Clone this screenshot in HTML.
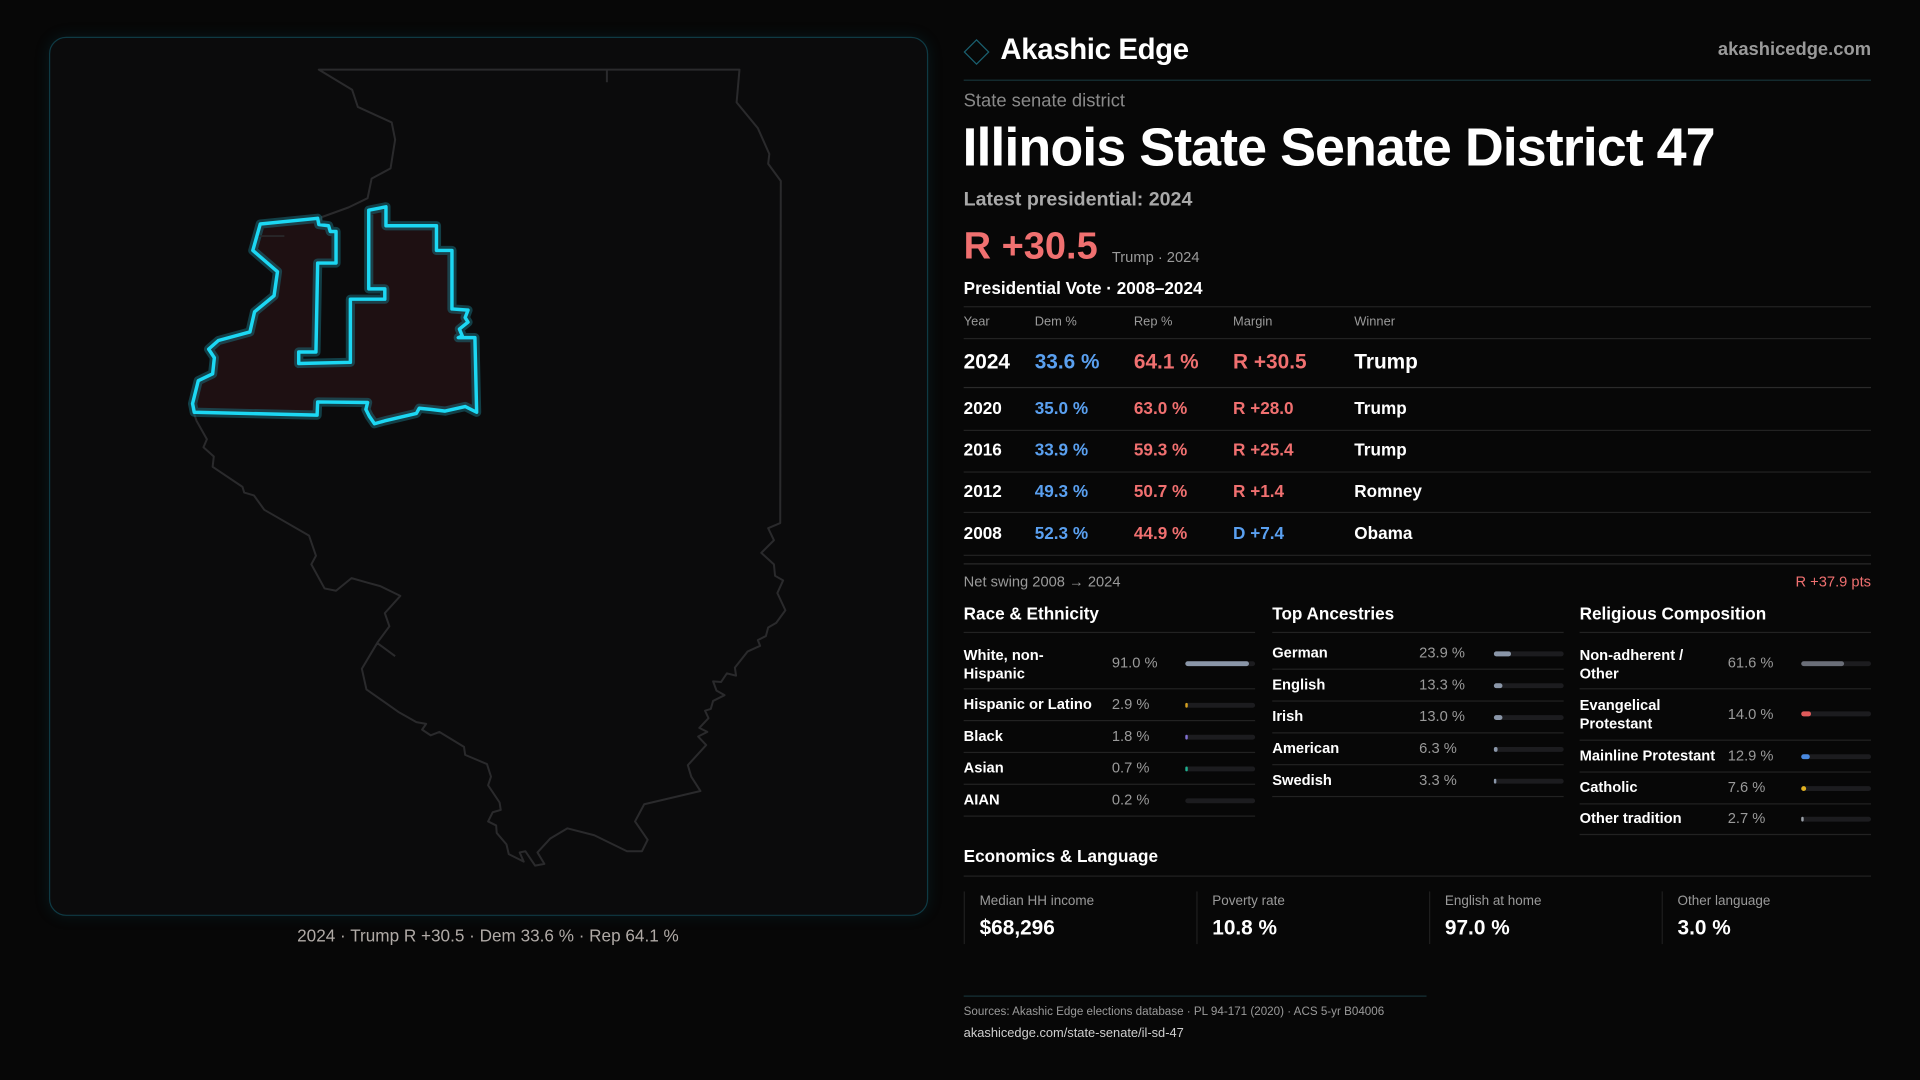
<!DOCTYPE html>
<html><head><meta charset="utf-8"><style>
html,body{margin:0;padding:0;background:#070707;width:1920px;height:1080px;overflow:hidden}
#s{position:absolute;left:0;top:0;width:1568px;height:882px;transform:scale(1.22449);transform-origin:0 0;font-family:"Liberation Sans",sans-serif;color:#fff}
.t{position:absolute;white-space:nowrap;line-height:1}
.g{color:#9a9a9a}
.ln{position:absolute;height:1px;background:#222}
.bar{position:absolute;height:4px;border-radius:2px;background:#1c1c1f}
.bar i{position:absolute;left:0;top:0;height:4px;border-radius:2px}
.b{color:#5aa0f0}.r{color:#f07070}
</style></head><body><div id="s">
<div style="position:absolute;left:40px;top:30px;width:716px;height:716px;border:1px solid #0f3a44;border-radius:14px;background:#0b0b0c;box-shadow:0 0 12px rgba(20,120,140,0.15)"></div>
<svg style="position:absolute;left:32.67px;top:24.5px" width="735" height="751.3" viewBox="0 0 1568 1603">
<path d="M485,68 L1218,68 L1213,125 L1250,170 L1270,215 L1268,232 L1290,262 L1289,858 L1268,867 L1278,888 L1256,910 L1278,930 L1280,950 L1294,958 L1284,980 L1298,1010 L1282,1032 L1268,1040 L1264,1055 L1250,1062 L1254,1072 L1232,1082 L1210,1110 L1212,1124 L1196,1120 L1186,1135 L1172,1134 L1178,1150 L1192,1158 L1172,1168 L1168,1182 L1158,1185 L1164,1198 L1148,1215 L1162,1222 L1146,1230 L1160,1245 L1128,1280 L1134,1300 L1150,1325 L1052,1348 L1036,1378 L1058,1410 L1048,1430 L1022,1430 L965,1402 L918,1390 L888,1408 L866,1432 L878,1452 L862,1455 L845,1430 L835,1432 L842,1448 L816,1435 L812,1418 L795,1398 L794,1385 L780,1378 L788,1362 L802,1358 L800,1345 L780,1315 L785,1300 L778,1278 L740,1262 L738,1248 L695,1222 L680,1228 L665,1218 L672,1208 L655,1205 L625,1188 L568,1148 L560,1112 L588,1065 L608,1038 L600,1015 L627,985 L592,968 L570,962 L542,954 L515,976 L495,972 L472,930 L480,915 L468,880 L390,835 L372,810 L355,805 L352,795 L300,760 L302,742 L284,726 L290,712 L272,680 L265,660 L400,600 L450,450 L490,325 L537,308 L570,292 L577,258 L610,240 L618,190 L612,160 L553,133 L543,103 Z M987,68 L987,90 M588,1068 L618,1090" fill="none" stroke="#2a2a2c" stroke-width="3.5" stroke-linejoin="round"/>
<g stroke-linejoin="round">
<path d="M383,337 L483,327 L485,338 L502,340 L505,350 L515,350 L515,405 L483,405 L480,560 L450,560 L450,580 L540,578 L540,468 L600,468 L600,450 L572,450 L572,313 L602,307 L602,340 L690,340 L690,383 L717,383 L717,485 L745,487 L740,500 L745,508 L730,520 L735,532 L728,535 L757,535 L760,665 L740,655 L705,663 L680,660 L660,658 L655,667 L600,680 L582,685 L573,672 L567,660 L570,648 L483,647 L482,670 L268,665 L265,650 L275,610 L300,598 L303,570 L293,555 L310,540 L365,525 L373,490 L407,462 L413,420 L370,383 Z" fill="#1e1012" stroke="#1a7f90" stroke-opacity="0.45" stroke-width="16"/>
<path d="M380,358 L425,358" stroke="#2a2a2c" stroke-width="3"/>
<path d="M383,337 L483,327 L485,338 L502,340 L505,350 L515,350 L515,405 L483,405 L480,560 L450,560 L450,580 L540,578 L540,468 L600,468 L600,450 L572,450 L572,313 L602,307 L602,340 L690,340 L690,383 L717,383 L717,485 L745,487 L740,500 L745,508 L730,520 L735,532 L728,535 L757,535 L760,665 L740,655 L705,663 L680,660 L660,658 L655,667 L600,680 L582,685 L573,672 L567,660 L570,648 L483,647 L482,670 L268,665 L265,650 L275,610 L300,598 L303,570 L293,555 L310,540 L365,525 L373,490 L407,462 L413,420 L370,383 Z" fill="none" stroke="#1cd8f4" stroke-width="6"/>
</g></svg>
<div class="t" style="left:0;width:797px;text-align:center;top:757px;font-size:14px;color:#b0aaa6">2024 · Trump R +30.5 · Dem 33.6 % · Rep 64.1 %</div>

<div style="position:absolute;left:790px;top:35px;width:13px;height:13px;border:1.5px solid #1a6070;transform:rotate(45deg)"></div>
<div class="t" style="left:817px;top:29px;font-size:24px;font-weight:bold;letter-spacing:-0.3px">Akashic Edge</div>
<div class="t g" style="right:40px;top:33px;font-size:15px;font-weight:bold">akashicedge.com</div>
<div class="ln" style="left:787px;width:741px;top:65px;background:#163238"></div>
<div class="t" style="left:787px;top:75px;font-size:15px;color:#8a8a8a">State senate district</div>
<div class="t" style="left:786px;top:99px;font-size:44px;font-weight:bold;letter-spacing:-0.8px">Illinois State Senate District 47</div>
<div class="t" style="left:787px;top:156px;font-size:16px;color:#a9a9a9;font-weight:bold">Latest presidential: 2024</div>
<div class="t r" style="left:787px;top:185px;font-size:31px;font-weight:bold">R +30.5</div>
<div class="t g" style="left:908px;top:204px;font-size:12px">Trump · 2024</div>
<div class="t" style="left:787px;top:228px;font-size:14px;font-weight:bold">Presidential Vote · 2008–2024</div>
<div class="ln" style="left:787px;width:741px;top:250px"></div>
<div class="t g" style="left:787px;top:258px;font-size:10.5px">Year</div>
<div class="t g" style="left:845px;top:258px;font-size:10.5px">Dem %</div>
<div class="t g" style="left:926px;top:258px;font-size:10.5px">Rep %</div>
<div class="t g" style="left:1007px;top:258px;font-size:10.5px">Margin</div>
<div class="t g" style="left:1106px;top:258px;font-size:10.5px">Winner</div>
<div class="ln" style="left:787px;width:741px;top:276px"></div>
<div class="t" style="left:787px;top:287px;font-size:17px;font-weight:bold">2024</div><div class="t b" style="left:845px;top:287px;font-size:17px;font-weight:bold">33.6 %</div><div class="t r" style="left:926px;top:287px;font-size:17px;font-weight:bold">64.1 %</div><div class="t r" style="left:1007px;top:287px;font-size:17px;font-weight:bold">R +30.5</div><div class="t" style="left:1106px;top:287px;font-size:17px;font-weight:bold">Trump</div>
<div class="ln" style="left:787px;width:741px;top:316px;background:#2a2a2a"></div>
<div class="t" style="left:787px;top:326px;font-size:14px;font-weight:bold">2020</div><div class="t b" style="left:845px;top:326px;font-size:14px;font-weight:bold">35.0 %</div><div class="t r" style="left:926px;top:326px;font-size:14px;font-weight:bold">63.0 %</div><div class="t r" style="left:1007px;top:326px;font-size:14px;font-weight:bold">R +28.0</div><div class="t" style="left:1106px;top:326px;font-size:14px;font-weight:bold">Trump</div>
<div class="ln" style="left:787px;width:741px;top:351px"></div>
<div class="t" style="left:787px;top:360px;font-size:14px;font-weight:bold">2016</div><div class="t b" style="left:845px;top:360px;font-size:14px;font-weight:bold">33.9 %</div><div class="t r" style="left:926px;top:360px;font-size:14px;font-weight:bold">59.3 %</div><div class="t r" style="left:1007px;top:360px;font-size:14px;font-weight:bold">R +25.4</div><div class="t" style="left:1106px;top:360px;font-size:14px;font-weight:bold">Trump</div>
<div class="ln" style="left:787px;width:741px;top:385px"></div>
<div class="t" style="left:787px;top:394px;font-size:14px;font-weight:bold">2012</div><div class="t b" style="left:845px;top:394px;font-size:14px;font-weight:bold">49.3 %</div><div class="t r" style="left:926px;top:394px;font-size:14px;font-weight:bold">50.7 %</div><div class="t r" style="left:1007px;top:394px;font-size:14px;font-weight:bold">R +1.4</div><div class="t" style="left:1106px;top:394px;font-size:14px;font-weight:bold">Romney</div>
<div class="ln" style="left:787px;width:741px;top:418px"></div>
<div class="t" style="left:787px;top:428px;font-size:14px;font-weight:bold">2008</div><div class="t b" style="left:845px;top:428px;font-size:14px;font-weight:bold">52.3 %</div><div class="t r" style="left:926px;top:428px;font-size:14px;font-weight:bold">44.9 %</div><div class="t b" style="left:1007px;top:428px;font-size:14px;font-weight:bold">D +7.4</div><div class="t" style="left:1106px;top:428px;font-size:14px;font-weight:bold">Obama</div>
<div class="ln" style="left:787px;width:741px;top:453px"></div>
<div class="ln" style="left:787px;width:741px;top:460px;background:#2a2a2a"></div>
<div class="t g" style="left:787px;top:469px;font-size:12px">Net swing 2008 → 2024</div>
<div class="t r" style="right:40px;top:469px;font-size:12px">R +37.9 pts</div>

<div class="t" style="left:787px;top:494px;font-size:14px;font-weight:bold">Race &amp; Ethnicity</div>
<div class="t" style="left:1039px;top:494px;font-size:14px;font-weight:bold">Top Ancestries</div>
<div class="t" style="left:1290px;top:494px;font-size:14px;font-weight:bold">Religious Composition</div>
<div class="ln" style="left:787px;width:238px;top:516px"></div>
<div class="ln" style="left:1039px;width:238px;top:516px"></div>
<div class="ln" style="left:1290px;width:238px;top:516px"></div>

<div class="t" style="left:787px;top:528px;font-size:12px;font-weight:bold;line-height:15px">White, non-<br>Hispanic</div><div class="t g" style="left:908px;top:535px;font-size:12px">91.0 %</div><div class="bar" style="left:968px;top:540px;width:57px"><i style="width:52px;background:#8a96a8"></i></div>
<div class="ln" style="left:787px;width:238px;top:562px"></div>
<div class="t" style="left:787px;top:569px;font-size:12px;font-weight:bold">Hispanic or Latino</div><div class="t g" style="left:908px;top:569px;font-size:12px">2.9 %</div><div class="bar" style="left:968px;top:574px;width:57px"><i style="width:2px;background:#d4a020"></i></div>
<div class="ln" style="left:787px;width:238px;top:588px"></div>
<div class="t" style="left:787px;top:595px;font-size:12px;font-weight:bold">Black</div><div class="t g" style="left:908px;top:595px;font-size:12px">1.8 %</div><div class="bar" style="left:968px;top:600px;width:57px"><i style="width:1.5px;background:#8070d0"></i></div>
<div class="ln" style="left:787px;width:238px;top:614px"></div>
<div class="t" style="left:787px;top:621px;font-size:12px;font-weight:bold">Asian</div><div class="t g" style="left:908px;top:621px;font-size:12px">0.7 %</div><div class="bar" style="left:968px;top:626px;width:57px"><i style="width:1.5px;background:#20b090"></i></div>
<div class="ln" style="left:787px;width:238px;top:640px"></div>
<div class="t" style="left:787px;top:647px;font-size:12px;font-weight:bold">AIAN</div><div class="t g" style="left:908px;top:647px;font-size:12px">0.2 %</div><div class="bar" style="left:968px;top:652px;width:57px"></div>
<div class="ln" style="left:787px;width:238px;top:666px"></div>

<div class="t" style="left:1039px;top:527px;font-size:12px;font-weight:bold">German</div><div class="t g" style="left:1159px;top:527px;font-size:12px">23.9 %</div><div class="bar" style="left:1220px;top:532px;width:57px"><i style="width:14px;background:#8a96a8"></i></div>
<div class="ln" style="left:1039px;width:238px;top:546px"></div>
<div class="t" style="left:1039px;top:553px;font-size:12px;font-weight:bold">English</div><div class="t g" style="left:1159px;top:553px;font-size:12px">13.3 %</div><div class="bar" style="left:1220px;top:558px;width:57px"><i style="width:7px;background:#8a96a8"></i></div>
<div class="ln" style="left:1039px;width:238px;top:572px"></div>
<div class="t" style="left:1039px;top:579px;font-size:12px;font-weight:bold">Irish</div><div class="t g" style="left:1159px;top:579px;font-size:12px">13.0 %</div><div class="bar" style="left:1220px;top:584px;width:57px"><i style="width:7px;background:#8a96a8"></i></div>
<div class="ln" style="left:1039px;width:238px;top:598px"></div>
<div class="t" style="left:1039px;top:605px;font-size:12px;font-weight:bold">American</div><div class="t g" style="left:1159px;top:605px;font-size:12px">6.3 %</div><div class="bar" style="left:1220px;top:610px;width:57px"><i style="width:3px;background:#8a96a8"></i></div>
<div class="ln" style="left:1039px;width:238px;top:624px"></div>
<div class="t" style="left:1039px;top:631px;font-size:12px;font-weight:bold">Swedish</div><div class="t g" style="left:1159px;top:631px;font-size:12px">3.3 %</div><div class="bar" style="left:1220px;top:636px;width:57px"><i style="width:1.5px;background:#8a96a8"></i></div>
<div class="ln" style="left:1039px;width:238px;top:650px"></div>

<div class="t" style="left:1290px;top:528px;font-size:12px;font-weight:bold;line-height:15px">Non-adherent /<br>Other</div><div class="t g" style="left:1411px;top:535px;font-size:12px">61.6 %</div><div class="bar" style="left:1471px;top:540px;width:57px"><i style="width:35px;background:#6a6e78"></i></div>
<div class="ln" style="left:1290px;width:238px;top:562px"></div>
<div class="t" style="left:1290px;top:569px;font-size:12px;font-weight:bold;line-height:15px">Evangelical<br>Protestant</div><div class="t g" style="left:1411px;top:577px;font-size:12px">14.0 %</div><div class="bar" style="left:1471px;top:581px;width:57px"><i style="width:8px;background:#e05a5a"></i></div>
<div class="ln" style="left:1290px;width:238px;top:604px"></div>
<div class="t" style="left:1290px;top:611px;font-size:12px;font-weight:bold">Mainline Protestant</div><div class="t g" style="left:1411px;top:611px;font-size:12px">12.9 %</div><div class="bar" style="left:1471px;top:616px;width:57px"><i style="width:7px;background:#4a8ae0"></i></div>
<div class="ln" style="left:1290px;width:238px;top:630px"></div>
<div class="t" style="left:1290px;top:637px;font-size:12px;font-weight:bold">Catholic</div><div class="t g" style="left:1411px;top:637px;font-size:12px">7.6 %</div><div class="bar" style="left:1471px;top:642px;width:57px"><i style="width:4px;background:#e0b020"></i></div>
<div class="ln" style="left:1290px;width:238px;top:656px"></div>
<div class="t" style="left:1290px;top:662px;font-size:12px;font-weight:bold">Other tradition</div><div class="t g" style="left:1411px;top:662px;font-size:12px">2.7 %</div><div class="bar" style="left:1471px;top:667px;width:57px"><i style="width:1.5px;background:#9aa0a8"></i></div>
<div class="ln" style="left:1290px;width:238px;top:681px"></div>

<div class="t" style="left:787px;top:692px;font-size:14px;font-weight:bold">Economics &amp; Language</div>
<div class="ln" style="left:787px;width:741px;top:715px"></div>
<div style="position:absolute;left:787px;top:728px;width:1px;height:43px;background:#1e1e1e"></div>
<div style="position:absolute;left:977px;top:728px;width:1px;height:43px;background:#1e1e1e"></div>
<div style="position:absolute;left:1167px;top:728px;width:1px;height:43px;background:#1e1e1e"></div>
<div style="position:absolute;left:1357px;top:728px;width:1px;height:43px;background:#1e1e1e"></div>
<div class="t g" style="left:800px;top:731px;font-size:11px">Median HH income</div><div class="t" style="left:800px;top:749px;font-size:17px;font-weight:bold">$68,296</div>
<div class="t g" style="left:990px;top:731px;font-size:11px">Poverty rate</div><div class="t" style="left:990px;top:749px;font-size:17px;font-weight:bold">10.8 %</div>
<div class="t g" style="left:1180px;top:731px;font-size:11px">English at home</div><div class="t" style="left:1180px;top:749px;font-size:17px;font-weight:bold">97.0 %</div>
<div class="t g" style="left:1370px;top:731px;font-size:11px">Other language</div><div class="t" style="left:1370px;top:749px;font-size:17px;font-weight:bold">3.0 %</div>

<div class="ln" style="left:787px;width:378px;top:813px;background:#163238"></div>
<div class="t g" style="left:787px;top:822px;font-size:9.5px">Sources: Akashic Edge elections database · PL 94-171 (2020) · ACS 5-yr B04006</div>
<div class="t" style="left:787px;top:839px;font-size:10.5px;color:#cfcfcf">akashicedge.com/state-senate/il-sd-47</div>
</div></body></html>
